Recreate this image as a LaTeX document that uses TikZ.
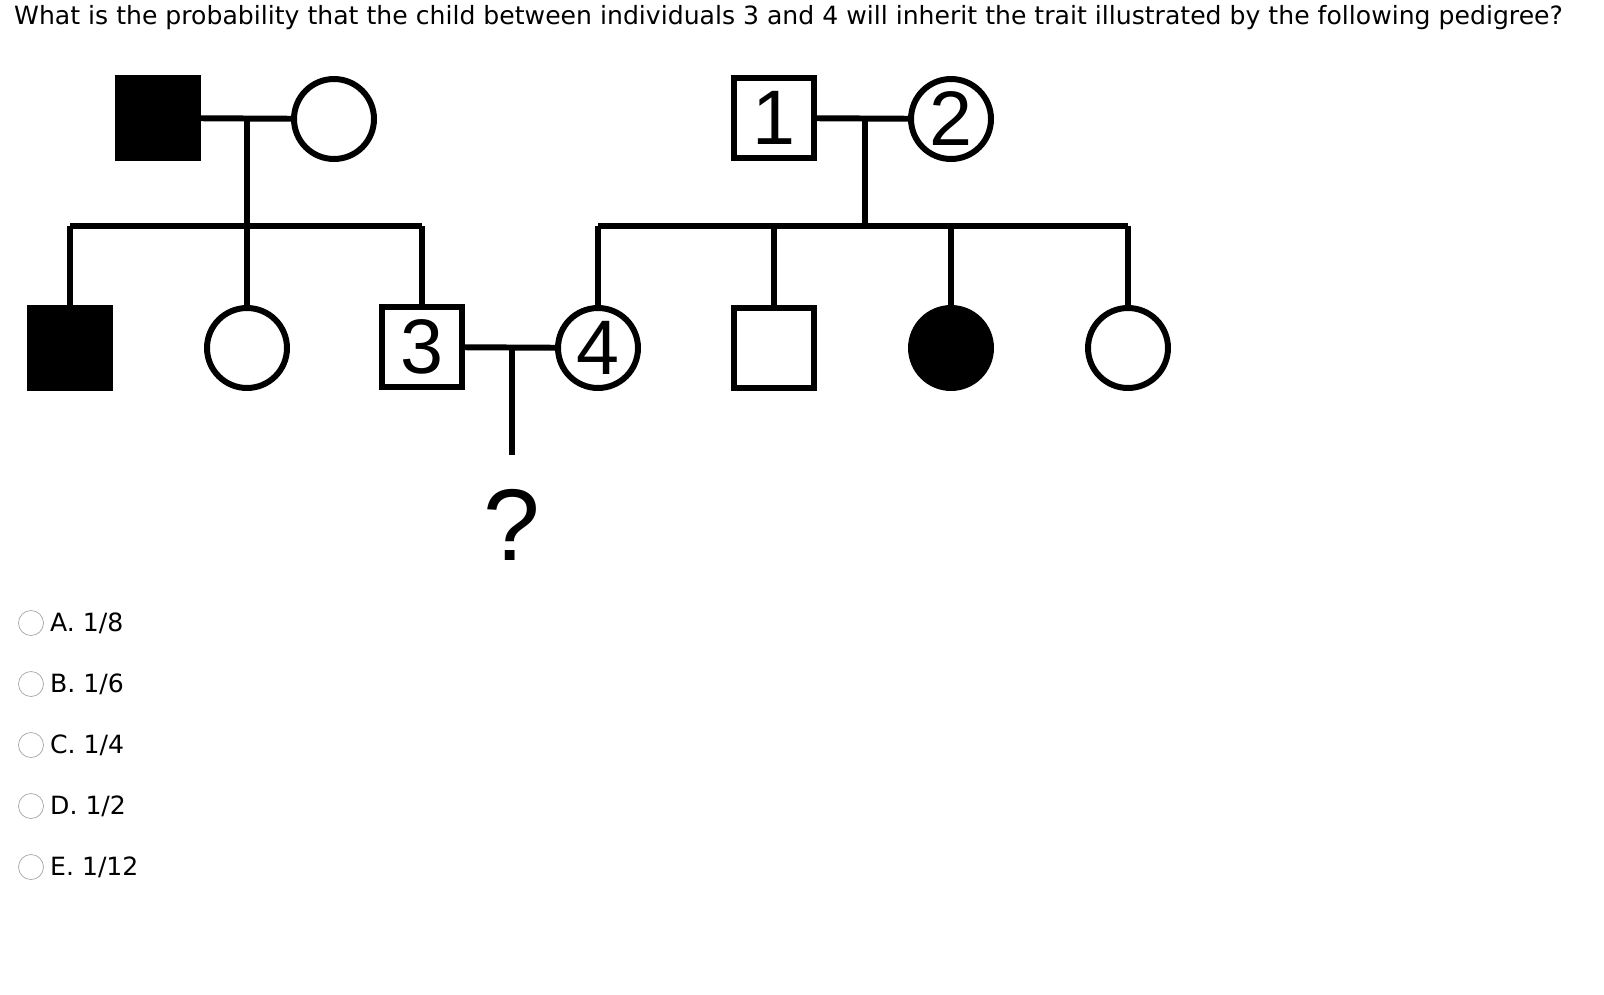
\documentclass[tikz,border=0pt]{standalone}
\usepackage{fontspec}
\setmainfont{DejaVu Sans}
\newfontfamily\helv{Liberation Sans}
\begin{document}
\begin{tikzpicture}[
        x=0.02cm, y=-0.02cm,
        male/.style={rectangle, draw=black, line width=3.4pt, minimum size=1.6cm, inner sep=0pt, font=\helv\fontsize{44}{44}\selectfont},
        female/.style={circle, draw=black, line width=3.4pt, minimum size=1.6cm, inner sep=0pt, font=\helv\fontsize{44}{44}\selectfont},
        affected/.style={fill=black},
        link/.style={line width=3.4pt},
        radio/.style={circle, draw=black!35, fill=white, minimum size=0.5cm, inner sep=0pt},
        answer/.style={anchor=west, font=\fontsize{14.3}{16}\selectfont}
    ]
    \useasboundingbox (0,0) rectangle (1604,994);
    % Question
    \node (question) [anchor=west, font=\fontsize{14.3}{16}\selectfont] at (8,18) {What is the probability that the child between individuals 3 and 4 will inherit the trait illustrated by the following pedigree?};

    % Left family
    \node (gfa) at (158,118) [male, affected] {};
    \node (gma) at (334,119) [female] {};
    \coordinate (mA) at (247,120);
    \coordinate (sA) at (247,226);
    \node (sonA) at (70,348) [male, affected] {};
    \node (dauA) at (247,348) [female] {};
    \node (ind3) at (422,347) [male] {3};
    \draw[link] (gfa) -- (gma);
    \draw[link] (mA) -- (sA);
    \draw[link] (sonA.north |- sA) -- (ind3.north |- sA);
    \draw[link] (sonA.north |- sA) -- (sonA);
    \draw[link] (sA) -- (dauA);
    \draw[link] (ind3.north |- sA) -- (ind3);

    % Right family
    \node (ind1) at (774,118) [male] {1};
    \node (ind2) at (951,119) [female] {2};
    \coordinate (mB) at (865,120);
    \coordinate (sB) at (865,226);
    \node (ind4) at (598,348) [female] {4};
    \node (sonB) at (774,348) [male] {};
    \node (dauB) at (951,348) [female, affected] {};
    \node (dauC) at (1128,348) [female] {};
    \draw[link] (ind1) -- (ind2);
    \draw[link] (mB) -- (sB);
    \draw[link] (ind4.north |- sB) -- (dauC.north |- sB);
    \foreach \kid in {ind4, sonB, dauB, dauC}
        \draw[link] (\kid.north |- sB) -- (\kid);

    % Child of 3 and 4
    \coordinate (mC) at (512,348);
    \coordinate (cC) at (512,455);
    \draw[link] (ind3) -- (ind4);
    \draw[link] (mC) -- (cC);
    \node (child) at (512,525) [font=\helv\fontsize{58}{58}\selectfont] {?};

    % Answers
    \foreach \lab [count=\i] in {A. 1/8, B. 1/6, C. 1/4, D. 1/2, E. 1/12} {
        \node (radio\i) at (31,562+61*\i) [radio] {};
        \node (ans\i) at (44,562+61*\i) [answer] {\lab};
    }
\end{tikzpicture}
\end{document}
